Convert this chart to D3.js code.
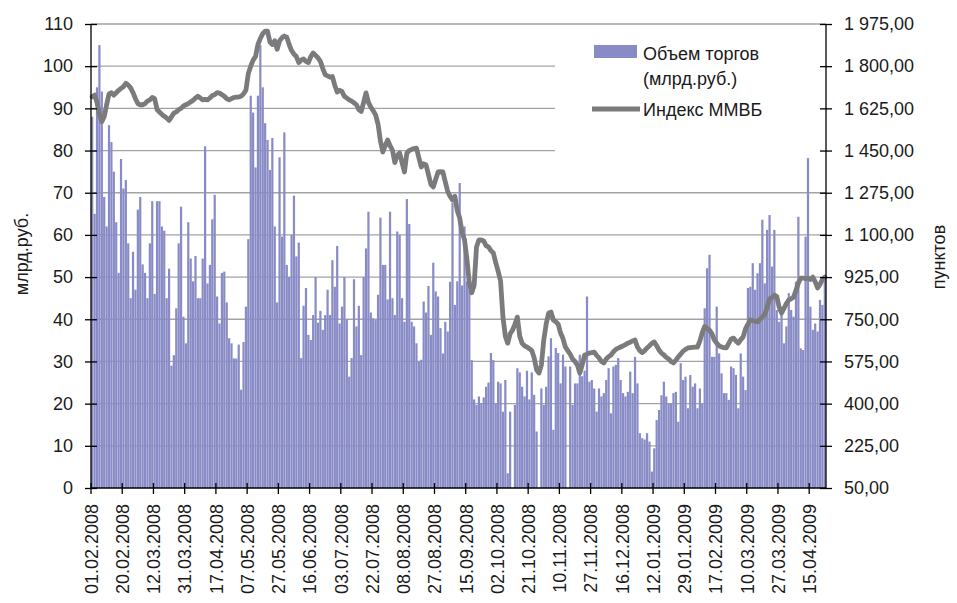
<!DOCTYPE html>
<html><head><meta charset="utf-8">
<script src="https://cdn.jsdelivr.net/npm/d3@7"></script>
<style>
body{margin:0;background:#fff}
text{font-family:"Liberation Sans",Arial,sans-serif;fill:#1a1a1a}
</style>
</head><body>
<svg id="chart" width="957" height="603"></svg>
<script>
// ---- data ----
const tickLabels = ["01.02.2008","20.02.2008","12.03.2008","31.03.2008","17.04.2008","07.05.2008","27.05.2008","16.06.2008","03.07.2008","22.07.2008","08.08.2008","27.08.2008","15.09.2008","02.10.2008","21.10.2008","10.11.2008","27.11.2008","16.12.2008","12.01.2009","29.01.2009","17.02.2009","10.03.2009","27.03.2009","15.04.2009"];
const tickEvery = 13;
const leftTicks = [0,10,20,30,40,50,60,70,80,90,100,110];
const rightTicks = [50,225,400,575,750,925,1100,1275,1450,1625,1800,1975];
const seriesNames = ["Объем торгов", "(млрд.руб.)", "Индекс ММВБ"];

// daily trading volume, bn RUB
const volume = [
88,65,95,105,94,69,62,86,82,75,63,51,78,
71,73,58,45,56,47,66,69,53,51,45,58,68,
46,68,68,62,61,45,52,29,31.5,42.6,58,66.7,40.6,
34.3,63,54.4,49,55,45,45,54.4,81,48.5,52.9,63.7,69.5,
45.4,39,51,51.3,44,35.5,34.3,30.7,30.7,34,23.3,34.6,43,
59,93,89,76,93,105,95,86.5,82.5,75.4,83,62,44,
78.4,59.6,84.3,52.9,50,60,69.3,54.9,58.2,30.8,43.2,47.4,36.3,
35.1,41,50,39.2,42,37.5,41,47,41,54,47.7,57.4,39,
43,50,40,26.4,30.8,49.5,38.3,43.2,31.5,50,56.8,65.5,41.6,
40.2,39.8,45.8,64.1,52.9,52.9,44.7,65.5,45,41,60.8,60,45,
39.4,68.5,62.6,39.4,38.3,34.3,30,30.4,44.2,41.6,47.9,36.3,53.4,
46.6,45.4,37.9,31.9,39.4,37.1,48.9,67.6,43.4,49,72.3,48,62,
49,47,30.3,21,19.7,21.7,20.1,21.5,24,25,32,30.3,20.1,
25.2,24.8,18.1,25.6,3.5,18.1,0,19.7,28.4,27.4,24,21.7,27.8,
21,27.4,22.1,13.4,0,23.6,19.7,24,31.2,35.5,13.8,33.2,32,
24.8,31.6,28.8,0,28.8,19.7,24.8,24.8,31.6,26.5,27.8,45.4,25.2,
25.6,23.6,18.1,23.6,21.7,22.5,25.6,28.4,17.7,28.8,29.2,30.8,25.6,
22.5,21.7,22.8,27.6,22.5,31.1,24.8,13,11.8,11.5,13,11,3.9,
9.4,16.1,18.5,22,25.2,21.7,20,20,22.5,22.8,15.7,29.6,25.6,
26.4,18.9,26.8,24,24.8,18.9,23.6,20,42.6,52.1,55.3,31.1,31.1,
43,31.9,27.2,22.5,22.5,20.9,28.8,28.4,26.8,18.9,31.9,26.4,23.2,
47.4,47.7,53.3,47,50.9,53.3,63.6,48.5,61.2,64.7,52.5,61.2,42.2,
39.4,41.4,34.3,38.3,46.2,42.2,40.6,48.9,64.3,33.1,32.7,59.6,78.2,
43,37.5,39,37.1,44.6,43.4,49.3
];

// MICEX index, points
const micex = [
1673,1680,1650,1600,1570,1590,1640,1685,1690,1680,1690,1700,1708,
1715,1729,1722,1710,1690,1665,1645,1640,1640,1645,1655,1660,1670,
1665,1620,1610,1600,1592,1585,1575,1590,1605,1610,1620,1625,1635,
1640,1645,1652,1658,1668,1675,1668,1660,1662,1660,1668,1678,1682,
1690,1688,1682,1675,1665,1660,1665,1670,1672,1672,1675,1685,1700,
1770,1800,1825,1840,1890,1915,1935,1945,1945,1900,1890,1905,1870,
1905,1918,1925,1920,1890,1865,1850,1840,1815,1825,1830,1820,1815,
1840,1855,1845,1835,1820,1790,1765,1760,1755,1757,1720,1693,1700,
1695,1675,1668,1660,1655,1648,1640,1620,1612,1650,1689,1650,1630,
1615,1598,1560,1490,1444,1470,1494,1470,1452,1400,1430,1440,1400,
1361,1440,1450,1455,1458,1460,1420,1382,1395,1390,1350,1310,1299,
1330,1361,1362,1361,1320,1280,1260,1245,1260,1200,1170,1110,1080,
1000,900,860,890,1050,1079,1079,1075,1055,1050,1035,1025,985,
950,910,760,680,651,690,705,730,759,680,650,640,635,
628,620,590,540,527,560,664,730,775,780,747,740,730,
693,670,635,620,605,585,575,560,527,560,602,605,610,
612,614,600,590,575,569,585,595,602,615,625,630,635,
640,645,651,655,660,664,635,620,612,620,631,640,650,
656,640,622,610,602,592,585,575,569,580,594,605,618,
625,631,632,633,634,635,660,695,720,712,705,690,665,
651,640,635,632,631,650,668,672,660,651,665,677,710,
730,747,745,742,739,750,760,770,800,835,840,850,845,
800,776,795,815,830,835,842,870,900,921,921,918,921,
915,925,905,880,895,915,925
];

// ---- layout ----
const svg = d3.select("#chart");
const L = 91, R = 826, T = 24, B = 488;
const barColor = "#888bc5", lineColor = "#7b7b7e", gridColor = "#a3a3a3";

const x = d3.scaleBand().domain(d3.range(volume.length)).range([L, R]).paddingInner(0.08).paddingOuter(0.04);
const step = x.step();
const yL = d3.scaleLinear().domain([0, 110]).range([B, T]);
const yR = d3.scaleLinear().domain([50, 1975]).range([B, T]);

const ru = d3.formatLocale({decimal: ",", thousands: "\u00a0", grouping: [3], currency: ["", ""]});
const fmtR = ru.format(",.2f");

// gridlines
svg.append("g").selectAll("line").data(leftTicks.filter(d => d > 0)).join("line")
  .attr("x1", L).attr("x2", R).attr("y1", d => yL(d)).attr("y2", d => yL(d))
  .attr("stroke", gridColor).attr("stroke-width", 1.3);

// legend background (hides gridlines)
svg.append("rect").attr("x", 555).attr("y", 33).attr("width", R - 555 - 1).attr("height", 122).attr("fill", "#fff");

// bars
svg.append("g").selectAll("rect").data(volume).join("rect")
  .attr("x", (d, i) => x(i)).attr("width", x.bandwidth())
  .attr("y", d => yL(d)).attr("height", d => B - yL(d))
  .attr("fill", barColor);

// index line
const line = d3.line().x((d, i) => x(i) + x.bandwidth() / 2).y(d => yR(d)).curve(d3.curveLinear);
svg.append("path").datum(micex).attr("d", line)
  .attr("fill", "none").attr("stroke", lineColor).attr("stroke-width", 4.8)
  .attr("stroke-linejoin", "round").attr("stroke-linecap", "round");

// axes lines
const axisG = svg.append("g").attr("stroke", "#000").attr("stroke-width", 1.3);
axisG.append("line").attr("x1", L).attr("x2", L).attr("y1", T).attr("y2", B);
axisG.append("line").attr("x1", R).attr("x2", R).attr("y1", T).attr("y2", B);
axisG.append("line").attr("x1", L).attr("x2", R).attr("y1", B).attr("y2", B);

// left axis ticks + labels
const leftAxis = d3.axisLeft(yL).tickValues(leftTicks).tickSize(6).tickPadding(12);
const gl = svg.append("g").attr("transform", `translate(${L},0)`).call(leftAxis);
gl.select(".domain").remove();
gl.selectAll(".tick line").attr("x2", -6).attr("x1", 6).attr("stroke", "#000").attr("stroke-width", 1.3);
gl.selectAll(".tick text").attr("font-size", 18).attr("font-family", "Liberation Sans, Arial, sans-serif").attr("fill", "#1a1a1a");

// right axis ticks + labels
const rightAxis = d3.axisRight(yR).tickValues(rightTicks).tickSize(6).tickPadding(12).tickFormat(fmtR);
const gr = svg.append("g").attr("transform", `translate(${R},0)`).call(rightAxis);
gr.select(".domain").remove();
gr.selectAll(".tick line").attr("x1", -6).attr("x2", 6).attr("stroke", "#000").attr("stroke-width", 1.3);
gr.selectAll(".tick text").attr("font-size", 18).attr("font-family", "Liberation Sans, Arial, sans-serif").attr("fill", "#1a1a1a");

// x axis ticks + rotated labels
const tickIdx = tickLabels.map((d, k) => k * tickEvery);
const xt = svg.append("g");
xt.selectAll("line").data(tickIdx).join("line")
  .attr("x1", i => x(i) - step * 0.04).attr("x2", i => x(i) - step * 0.04)
  .attr("y1", B - 5).attr("y2", B + 6).attr("stroke", "#000").attr("stroke-width", 1.3);
xt.selectAll("text").data(tickLabels).join("text")
  .attr("transform", (d, k) => `translate(${x(tickIdx[k]) - step * 0.04 + 0.5},${B + 16}) rotate(-90)`)
  .attr("text-anchor", "end").attr("dy", "0.35em").attr("font-size", 18).text(d => d);

// axis titles
svg.append("text").attr("transform", "translate(22,254) rotate(-90)")
  .attr("text-anchor", "middle").attr("dy", "0.35em").attr("font-size", 18).text("млрд.руб.");
svg.append("text").attr("transform", "translate(939,257) rotate(-90)")
  .attr("text-anchor", "middle").attr("dy", "0.35em").attr("font-size", 18).text("пунктов");

// legend
const lg = svg.append("g");
lg.append("rect").attr("x", 594).attr("y", 45).attr("width", 43).attr("height", 13).attr("fill", barColor);
lg.append("text").attr("x", 643).attr("y", 60).attr("font-size", 18).text(seriesNames[0]);
lg.append("text").attr("x", 643).attr("y", 85).attr("font-size", 18).text(seriesNames[1]);
lg.append("line").attr("x1", 592).attr("x2", 640).attr("y1", 109).attr("y2", 109)
  .attr("stroke", lineColor).attr("stroke-width", 4.8);
lg.append("text").attr("x", 643).attr("y", 116).attr("font-size", 18).text(seriesNames[2]);
</script>
</body></html>
